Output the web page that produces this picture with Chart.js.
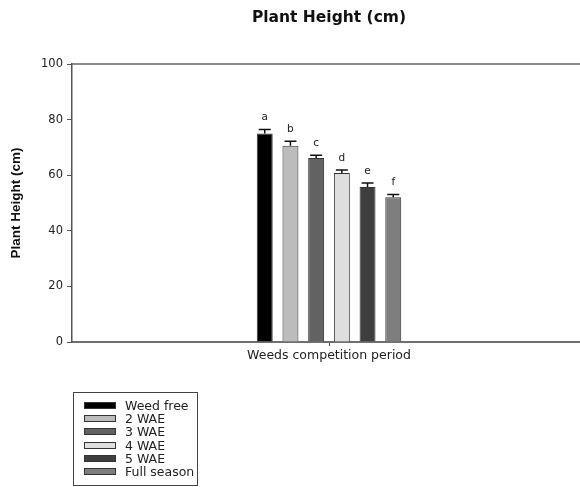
<!DOCTYPE html>
<html lang="en">
<head>
    <meta charset="UTF-8">
    <title>Plant Height (cm)</title>
    <script src="https://cdn.jsdelivr.net/npm/chart.js@4.4.0/dist/chart.umd.min.js"></script>
    <style>
        html, body { margin: 0; padding: 0; background: #fff; overflow: hidden; }
        #wrap { position: relative; width: 580px; height: 487px; overflow: hidden; }
        #legend {
            position: absolute; left: 73px; top: 392px; width: 125px; height: 94px;
            border: 1px solid #444; box-sizing: border-box;
            font: 12.5px "DejaVu Sans", sans-serif; color: #222;
            padding-top: 6px;
        }
        .row { height: 13.2px; line-height: 13.2px; display: flex; align-items: center; }
        .sw { width: 32px; height: 7px; margin-left: 10px; margin-right: 9px; border: 1px solid #333; box-sizing: border-box; }
    </style>
</head>
<body>
<div id="wrap">
    <!-- plot runs slightly past the right edge, like the reference -->
    <canvas id="myChart" width="586" height="487"></canvas>
    <div id="legend"></div>
</div>

<script>
    // data
    var category = ["Weeds competition period"];
    var treatments = ["Weed free", "2 WAE", "3 WAE", "4 WAE", "5 WAE", "Full season"];
    var heights = [75.0, 70.6, 66.2, 60.8, 55.8, 52.1];
    var errors = [1.4, 1.6, 1.0, 1.1, 1.4, 1.0];
    var letters = ["a", "b", "c", "d", "e", "f"];
    var colors = ["#000000", "#bcbcbc", "#626262", "#dedede", "#3e3e3e", "#7e7e7e"];
    var yTicks = [0, 20, 40, 60, 80, 100];

    var datasets = treatments.map(function (name, i) {
        return {
            label: name,
            data: [heights[i]],
            backgroundColor: colors[i],
            borderColor: "#333",
            borderWidth: 1,
            categoryPercentage: 0.3,
            barPercentage: 0.62
        };
    });

    // error bars, letters and the top frame line
    var extras = {
        id: "extras",
        afterDatasetsDraw: function (chart) {
            var ctx = chart.ctx;
            var y = chart.scales.y;
            var area = chart.chartArea;
            ctx.save();
            ctx.strokeStyle = "#666";
            ctx.lineWidth = 1.5;
            ctx.beginPath();
            ctx.moveTo(area.left, area.top);
            ctx.lineTo(area.right, area.top);
            ctx.stroke();

            chart.data.datasets.forEach(function (ds, i) {
                var bar = chart.getDatasetMeta(i).data[0];
                var top = y.getPixelForValue(heights[i] + errors[i]);
                ctx.strokeStyle = "#111";
                ctx.lineWidth = 1.5;
                ctx.beginPath();
                ctx.moveTo(bar.x, bar.y);
                ctx.lineTo(bar.x, top);
                ctx.moveTo(bar.x - 6, top);
                ctx.lineTo(bar.x + 6, top);
                ctx.stroke();
                ctx.fillStyle = "#222";
                ctx.font = "10.5px 'DejaVu Sans', sans-serif";
                ctx.textAlign = "center";
                ctx.textBaseline = "middle";
                ctx.fillText(letters[i], bar.x, top - 12);
            });
            ctx.restore();
        }
    };

    var ctx = document.getElementById("myChart").getContext("2d");
    new Chart(ctx, {
        type: "bar",
        data: { labels: category, datasets: datasets },
        plugins: [extras],
        options: {
            responsive: false,
            animation: false,
            plugins: {
                legend: { display: false },
                tooltip: { enabled: false },
                title: {
                    display: true,
                    text: "Plant Height (cm)",
                    fullSize: false,
                    color: "#111",
                    font: { family: "'DejaVu Sans', sans-serif", size: 15.5, weight: "bold" },
                    padding: { top: 9, bottom: 36.4 }
                }
            },
            scales: {
                x: {
                    grid: { display: true, offset: false, drawOnChartArea: false, tickLength: 4, color: "#444" },
                    border: { color: "#707070", width: 2 },
                    ticks: {
                        color: "#222",
                        padding: 2,
                        font: { family: "'DejaVu Sans', sans-serif", size: 12.5 }
                    },
                    afterFit: function (s) { s.height = 145; }
                },
                y: {
                    min: 0,
                    max: 100,
                    afterBuildTicks: function (s) {
                        s.ticks = yTicks.map(function (v) { return { value: v }; });
                    },
                    grid: { drawOnChartArea: false, tickLength: 5, color: "#555" },
                    border: { color: "#555", width: 1.5 },
                    ticks: {
                        color: "#222",
                        padding: 4,
                        font: { family: "'DejaVu Sans', sans-serif", size: 11.5 }
                    },
                    title: {
                        display: true,
                        text: "Plant Height (cm)",
                        color: "#111",
                        font: { family: "'Liberation Sans Narrow', 'Liberation Sans', Arial, sans-serif", size: 13.5, weight: "bold" },
                        padding: { top: 8, bottom: 0 }
                    },
                    afterFit: function (s) { s.width = 72; }
                }
            }
        }
    });

    // legend from the same arrays
    var legend = document.getElementById("legend");
    treatments.forEach(function (name, i) {
        var row = document.createElement("div");
        row.className = "row";
        var sw = document.createElement("span");
        sw.className = "sw";
        sw.style.background = colors[i];
        row.appendChild(sw);
        row.appendChild(document.createTextNode(name));
        legend.appendChild(row);
    });
</script>
</body>
</html>
